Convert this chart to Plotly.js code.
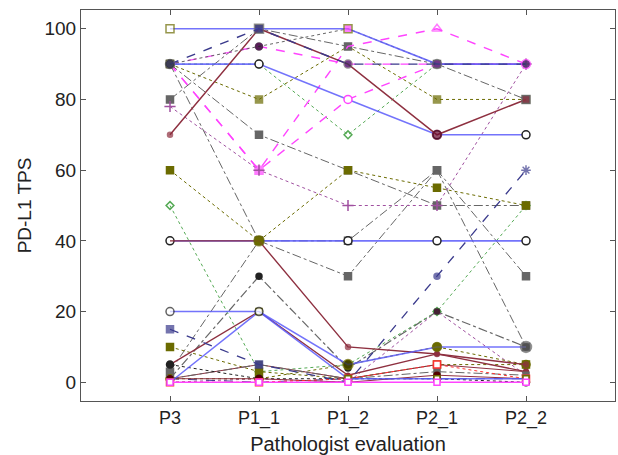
<!DOCTYPE html>
<html><head><meta charset="utf-8">
<script src="https://cdn.plot.ly/plotly-3.0.1.min.js"></script>
<style>html,body{margin:0;padding:0;background:#fff}#chart{width:618px;height:455px}</style>
</head><body><div id="chart"></div>
<script>
// categories (pathologist evaluations)
const categories = ['P3', 'P1_1', 'P1_2', 'P2_1', 'P2_2'];
const yTicks = [0, 20, 40, 60, 80, 100];

// PD-L1 TPS per case, values at P3, P1_1, P1_2, P2_1, P2_2
const case01 = [100, 100, 100, 90, 90];
const case02 = [90, 100, 90, 90, 90];
const case03 = [70, 100, 90, 70, 80];
const case04 = [90, 90, 80, 70, 70];
const case05 = [90, 95, 90, 90, 90];
const case06 = [90, 60, 80, 90, 90];
const case07 = [90, 60, 95, 100, 90];
const case08 = [78, 60, 50, 50, 90];
const case09 = [60, 40, 60, 55, 50];
const case10 = [90, 80, 95, 80, 80];
const case11 = [90, 90, 70, 90, 90];
const case12 = [50, 3, 5, 20, 50];
const case13 = [80, 100, 95, 90, 80];
const case14 = [90, 70, 60, 50, 50];
const case15 = [90, 40, 30, 60, 10];
const case16 = [3, 40, 40, 60, 30];
const case17 = [90, 95, 100, 90, 90];
const case18 = [1, 30, 4, 20, 10];
const case19 = [20, 20, 5, 10, 10];
const case20 = [0, 20, 1, 1, 1];
const case21 = [15, 5, 0, 30, 60];
const case22 = [40, 40, 10, 8, 5];
const case23 = [5, 20, 2, 8, 3];
const case24 = [1, 5, 1, 5, 3];
const case25 = [10, 3, 1, 5, 5];
const case26 = [1, 1, 5, 10, 5];
const case27 = [0, 0, 1, 5, 1];
const case28 = [0, 0, 0, 0, 0];
const case29 = [5, 1, 1, 1, 0];
const case30 = [0, 1, 0, 20, 2];
const case31 = [1, 5, 1, 3, 2];
const case32 = [1, 0, 1, 1, 1];
const case33 = [40, 40, 40, 40, 40];
const case34 = [1, 1, 0, 2, 1];

const BLUE = 'rgba(90,90,250,0.85)', NAVY = '#3a3a8c', MAG = '#ff44ff', BR = '#8e3040',
      OLV = '#6b6b00', GRY = '#666666', GRN = '#55aa55', PUR = '#a050a0', BLK = '#222222', RED = '#ff3030';

// style table: [values, line color, dash, line width, marker symbol, marker fill, marker edge, size]
// (symbol / fill / size may be per-point arrays)
const styles = [
  [case15, GRY, 'dashdot', 1, 'square', GRY, GRY, 7],
  [case16, GRY, 'dashdot', 1, 'square', GRY, GRY, 7],
  [case14, GRY, 'dashdot', 1, 'square', GRY, GRY, 7],
  [case18, GRY, 'dashdot', 1.2, 'circle', BLK, BLK, 6],
  [case10, OLV, 'dot', 1, 'square', OLV, OLV, [7, 7, 0, 7, 7]],
  [case13, GRY, 'dashdot', 1, 'square', GRY, GRY, 7],
  [case11, GRN, 'dot', 1, 'diamond-open', GRN, GRN, 6],
  [case12, GRN, 'dot', 1, 'diamond-open', GRN, GRN, 6],
  [case30, PUR, 'dot', 1, 'circle', '#442233', '#442233', 5],
  [case25, OLV, 'dot', 1, 'square', OLV, OLV, 7],
  [case26, OLV, 'dot', 1, 'circle', OLV, OLV, 8],
  [case24, BR, 'solid', 1, 'circle', BR, BR, 5],
  [case23, BR, 'solid', 1.3, 'circle', BR, BR, 4],
  [case31, GRY, 'dashdot', 1, 'square', GRY, GRY, 6],
  [case29, BLK, 'dot', 1, 'circle', BLK, BLK, 7],
  [case32, NAVY, 'dash', 1, 'circle', NAVY, NAVY, 4],
  [case34, BR, 'solid', 1, 'circle', '#550000', '#550000', 6],
  [case27, RED, 'dot', 1, 'square', '#fff', RED, 7],
  [case21, NAVY, 'dash', 1.3, ['square', 'square', 'circle', 'circle', 'asterisk-open'], NAVY, NAVY, [7, 7, 0, 6, 8]],
  [case20, BLUE, 'solid', 1.5, 'square', '#fff', OLV, 6],
  [case33, BLUE, 'solid', 1.6, 'circle', '#fff', BLK, 8],
  [case09, OLV, 'dot', 1, 'square', OLV, OLV, 7],
  [case22, BR, 'solid', 1.4, 'circle', [BR, OLV, BR, BR, BR], [BR, OLV, BR, BR, BR], [0, 10, 5, 5, 5]],
  [case19, BLUE, 'solid', 1.5, 'circle', ['#fff', '#fff', '#333300', OLV, GRY], [BLK, BLK, OLV, OLV, GRY], [8, 8, 10, 9, 11]],
  [case28, MAG, 'solid', 1.5, 'square', '#fff', MAG, 6],
  [case06, MAG, 'dash', 1.4, ['square', 'square', 'circle', 'circle', 'circle'], MAG, MAG, [0, 8, 0, 0, 0]],
  [case07, MAG, 'dash', 1.4, 'triangle-up-open', MAG, MAG, [0, 0, 0, 9, 0]],
  [case05, MAG, 'dash', 1.4, 'circle', MAG, MAG, 0],
  [case08, PUR, 'dot', 1, 'cross-thin-open', PUR, PUR, 8],
  [case04, BLUE, 'solid', 1.6, 'circle', '#fff', [BLK, BLK, MAG, BLK, BLK], 8],
  [case03, BR, 'solid', 1.5, ['circle', 'circle', 'circle', 'circle', 'square'], [BR, BR, BR, '#6a0a30', BR], [BR, BR, BR, '#6a0a30', GRY], [5, 0, 0, 9, 8]],
  [case17, GRY, 'dot', 1, 'circle', '#111', '#111', [7, 7, 0, 0, 0]],
  [case01, BLUE, 'solid', 1.6, 'square', ['#fff', NAVY, MAG, '#fff', '#fff'], [OLV, GRY, OLV, OLV, OLV], [8, 9, 8, 0, 0]],
  [case02, NAVY, 'dash', 1.4, 'circle', '#333355', [GRY, GRY, GRY, GRY, MAG], [9, 0, 8, 9, 9]]
];

const traces = styles.map(s => ({
  type: 'scatter', mode: 'lines+markers',
  x: categories, y: s[0],
  line: {color: s[1], dash: s[2], width: s[3]},
  marker: {symbol: s[4], color: s[5], size: s[7], line: {color: s[6], width: 1.5}},
  hoverinfo: 'skip'
}));

const FONT = 'Liberation Sans, Arial, Helvetica, sans-serif';
const layout = {
  width: 618, height: 455,
  margin: {l: 81, r: 3, t: 10, b: 54},
  paper_bgcolor: '#fff', plot_bgcolor: '#fff',
  showlegend: false,
  font: {family: FONT, color: '#222'},
  xaxis: {
    type: 'category', categoryorder: 'array', categoryarray: categories,
    range: [-1, 5], showgrid: false, zeroline: false,
    showline: true, linecolor: '#555', linewidth: 1, mirror: 'ticks',
    ticks: 'inside', ticklen: 5, tickcolor: '#555',
    tickfont: {size: 18, family: FONT, color: '#222'},
    title: {text: 'Pathologist evaluation', font: {size: 20, family: FONT, color: '#222'}, standoff: 10}
  },
  yaxis: {
    range: [-5.3, 105.3], tickvals: yTicks, ticktext: yTicks.map(String),
    showgrid: false, zeroline: false,
    showline: true, linecolor: '#555', linewidth: 1, mirror: 'ticks',
    ticks: 'inside', ticklen: 5, tickcolor: '#555',
    tickfont: {size: 19, family: FONT, color: '#222'},
    title: {text: 'PD-L1 TPS', font: {size: 19, family: FONT, color: '#222'}, standoff: 7}
  }
};

Plotly.newPlot('chart', traces, layout, {staticPlot: true, displayModeBar: false});
</script>
</body></html>
